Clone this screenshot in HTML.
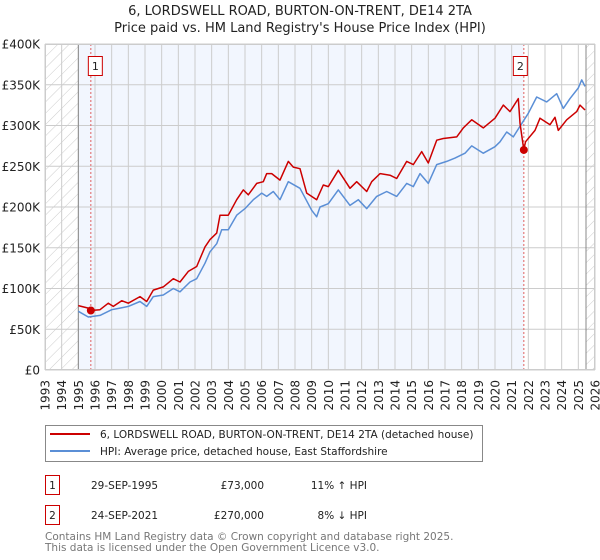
<!DOCTYPE html>
<html><head><meta charset="utf-8"><style>
body{margin:0;background:#fff;font-family:"Liberation Sans","DejaVu Sans",sans-serif;}
svg{display:block}
</style></head><body>
<svg id="c" width="600" height="560" xmlns="http://www.w3.org/2000/svg" font-family="DejaVu Sans, Liberation Sans, sans-serif">
<defs><pattern id="hatch" width="8" height="8" patternUnits="userSpaceOnUse" patternTransform="rotate(45)"><line x1="0" y1="0" x2="0" y2="8" stroke="#ccc" stroke-width="1"/></pattern></defs>
<text x="300" y="15" text-anchor="middle" font-size="13" fill="#222">6, LORDSWELL ROAD, BURTON-ON-TRENT, DE14 2TA</text>
<text x="300" y="32" text-anchor="middle" font-size="13" fill="#222">Price paid vs. HM Land Registry's House Price Index (HPI)</text>
<g id="plot"></g>
<g>
<rect x="45.5" y="425.5" width="437" height="36" fill="#fff" stroke="#888"/>
<line x1="50" y1="434" x2="90" y2="434" stroke="#cc0000" stroke-width="2"/>
<text x="100" y="438" font-size="10.5" fill="#222">6, LORDSWELL ROAD, BURTON-ON-TRENT, DE14 2TA (detached house)</text>
<line x1="50" y1="451" x2="90" y2="451" stroke="#5b8fd6" stroke-width="2"/>
<text x="100" y="455" font-size="10.5" fill="#222">HPI: Average price, detached house, East Staffordshire</text>
</g>
<g font-size="10.5" fill="#222">
<rect x="45.5" y="475.5" width="14" height="19" fill="#fff" stroke="#cc0000"/>
<text x="52.5" y="489" text-anchor="middle">1</text>
<text x="91" y="489">29-SEP-1995</text>
<text x="264" y="489" text-anchor="end">£73,000</text>
<text x="367" y="489" text-anchor="end">11% ↑ HPI</text>
<rect x="45.5" y="505.5" width="14" height="19" fill="#fff" stroke="#cc0000"/>
<text x="52.5" y="519" text-anchor="middle">2</text>
<text x="91" y="519">24-SEP-2021</text>
<text x="264" y="519" text-anchor="end">£270,000</text>
<text x="367" y="519" text-anchor="end">8% ↓ HPI</text>
</g>
<text x="45" y="540" font-size="10.5" fill="#777">Contains HM Land Registry data © Crown copyright and database right 2025.</text>
<text x="45" y="551" font-size="10.5" fill="#777">This data is licensed under the Open Government Licence v3.0.</text>
</svg>
<script>
const xTicks=[1993,1994,1995,1996,1997,1998,1999,2000,2001,2002,2003,2004,2005,2006,2007,2008,2009,2010,2011,2012,2013,2014,2015,2016,2017,2018,2019,2020,2021,2022,2023,2024,2025,2026];
const yTicks=[0,50,100,150,200,250,300,350,400];
const yTickLabels=["£0","£50K","£100K","£150K","£200K","£250K","£300K","£350K","£400K"];
const hpiYears=[1995,1995.6,1996.3,1997,1997.5,1998,1998.7,1999.1,1999.5,2000.1,2000.7,2001.1,2001.7,2002.1,2002.6,2002.9,2003.3,2003.6,2004,2004.5,2005,2005.5,2006,2006.3,2006.7,2007.1,2007.6,2008.3,2009,2009.3,2009.5,2010,2010.6,2011.3,2011.8,2012.3,2012.9,2013.5,2014.1,2014.7,2015.1,2015.5,2016,2016.5,2017.1,2017.6,2018.2,2018.6,2019.3,2020,2020.3,2020.7,2021.1,2021.5,2022,2022.5,2023.1,2023.7,2024.1,2024.5,2025,2025.2,2025.4];
const hpiValues=[72,65,67,74,76,78,84,78,90,92,100,96,108,112,131,145,155,172,172,190,198,209,217,213,219,209,231,223,196,188,200,204,221,202,209,198,213,219,213,229,225,241,229,252,256,260,266,275,266,274,280,292,286,299,315,335,329,339,321,333,346,356,348];
const ppYears=[1995,1995.6,1995.75,1996.3,1996.8,1997.1,1997.6,1998,1998.7,1999.1,1999.5,2000.1,2000.7,2001.1,2001.6,2002.1,2002.6,2002.9,2003.3,2003.5,2004,2004.5,2004.9,2005.2,2005.7,2006.1,2006.3,2006.6,2007.1,2007.6,2007.9,2008.3,2008.7,2009.3,2009.7,2010,2010.6,2011.3,2011.7,2012.3,2012.6,2013.1,2013.7,2014.1,2014.7,2015.1,2015.6,2016,2016.5,2016.9,2017.7,2018.1,2018.6,2019.3,2020,2020.5,2020.9,2021.4,2021.5,2021.73,2021.83,2022.4,2022.7,2023.3,2023.6,2023.8,2024.3,2024.9,2025.1,2025.4];
const ppValues=[79,76,73,74,82,78,85,82,90,84,98,102,112,108,121,127,151,160,168,190,190,209,221,215,229,231,241,241,233,256,249,247,217,209,227,225,245,223,231,219,231,241,239,235,256,252,268,254,282,284,286,297,307,297,309,325,317,333,303,270,280,294,309,301,310,294,307,317,325,319];
const saleYears=[1995.75,2021.73];
const saleValues=[73,270];
const saleLabels=["1","2"];

const L=45,R=595,T=44,B=370,Y0=1993,Y1=2026,VMAX=400;
const xs=y=>L+(y-Y0)/(Y1-Y0)*(R-L);
const ys=v=>B-v/VMAX*(B-T);
const NS="http://www.w3.org/2000/svg";
const g=document.getElementById('plot');
function mk(tag,at,parent){const e=document.createElementNS(NS,tag);for(const k in at)e.setAttribute(k,at[k]);(parent||g).appendChild(e);return e;}

let e;
e=mk('rect',{x:L,y:T,width:R-L,height:B-T,fill:'#fff'});


e=mk('rect',{x:xs(1995),y:T,width:xs(saleYears[1])-xs(1995),height:B-T,fill:'#f2f6fe'});


e=mk('rect',{x:L,y:T,width:xs(1995)-L,height:B-T,fill:'url(#hatch)'});


e=mk('rect',{x:xs(2025.46),y:T,width:R-xs(2025.46),height:B-T,fill:'url(#hatch)'});



xTicks.forEach(t=>{
  const x=xs(t);
  e=mk('line',{x1:x,y1:T,x2:x,y2:B,stroke:'#cccccc','stroke-width':1});
  
  
  e=mk('text',{x:0,y:0,transform:`translate(${x+4.5},380) rotate(-90)`,'text-anchor':'end','font-size':'12',fill:'#222'});
  e.textContent=t;
  
  
});
yTicks.forEach((t,i)=>{
  const y=ys(t);
  e=mk('line',{x1:L,y1:y,x2:R,y2:y,stroke:'#cccccc','stroke-width':1});
  
  
  e=mk('text',{x:40,y:y+4.5,'text-anchor':'end','font-size':'12',fill:'#222'});
  e.textContent=yTickLabels[i];
  
  
});
[1995,2025.46].forEach((yr,i)=>{
  e=mk('line',{x1:xs(yr),y1:T,x2:xs(yr),y2:B,stroke:'#888','stroke-width':1});
  
  
});
saleYears.forEach((yr,i)=>{
  e=mk('line',{x1:xs(yr),y1:T,x2:xs(yr),y2:B,stroke:'#e06060','stroke-width':1,'stroke-dasharray':'2,2'});
  
  
});
function pts(xa,va){return xa.map((y,i)=>xs(y).toFixed(1)+','+ys(va[i]).toFixed(1)).join(' ');}
e=mk('polyline',{points:pts(hpiYears,hpiValues),fill:'none',stroke:'#5b8fd6','stroke-width':1.5,'stroke-linejoin':'round'});


e=mk('polyline',{points:pts(ppYears,ppValues),fill:'none',stroke:'#cc0000','stroke-width':1.5,'stroke-linejoin':'round'});


saleYears.forEach((yr,i)=>{
  e=mk('circle',{cx:xs(yr),cy:ys(saleValues[i]),r:4,fill:'#cc0000'});
  
  
  const bx=xs(yr)-7-(i?4:-4);
  e=mk('rect',{x:bx+0.5,y:56.5,width:14,height:19,fill:'#fff',stroke:'#cc0000'});
  
  
  e=mk('text',{x:bx+7.5,y:70,'text-anchor':'middle','font-size':'11',fill:'#222'});
  e.textContent=saleLabels[i];
  
  
});
e=mk('rect',{x:L+0.5,y:T+0.5,width:R-L-1,height:B-T-1,fill:'none',stroke:'#ccc'});


</script>
</body></html>
